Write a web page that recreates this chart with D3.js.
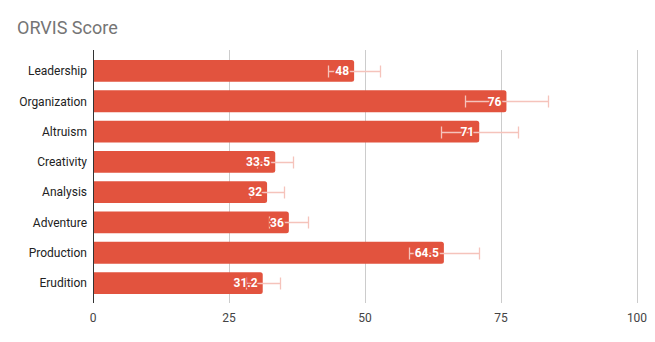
<!DOCTYPE html>
<html><head><meta charset="utf-8">
<script src="https://cdn.jsdelivr.net/npm/d3@7/dist/d3.min.js"></script>
<style>body{margin:0;background:#fff}svg{display:block;font-family:Roboto,sans-serif}</style>
</head><body><svg id="c" width="655" height="342"></svg>
<script>
const categories = ["Leadership","Organization","Altruism","Creativity","Analysis","Adventure","Production","Erudition"];
const values = [48, 76, 71, 33.5, 32, 36, 64.5, 31.2];
const errors = [4.8, 7.6, 7.1, 3.35, 3.2, 3.6, 6.45, 3.12];
const labels = ["48","76","71","33.5","32","36","64.5","31.2"];
const xTicks = [0, 25, 50, 75, 100];
const title = "ORVIS Score";

const svg = d3.select("#c");
const plotTop = 50, plotBottom = 303;
const barColor = "#e2533e";
const x = d3.scaleLinear().domain([0,100]).range([93,637]);
const y = d3.scaleBand().domain(categories).range([55.8,298.2]).paddingInner(0.28).paddingOuter(0.14);

svg.append("text").attr("x",17).attr("y",33.5).attr("font-size",18).attr("fill","#757575").text(title);

// gridlines
svg.append("g").selectAll("line").data(xTicks.slice(1)).join("line")
  .attr("x1",d=>Math.round(x(d))+0.5).attr("x2",d=>Math.round(x(d))+0.5)
  .attr("y1",plotTop).attr("y2",plotBottom).attr("stroke","#cccccc");

// bars
const r = 2.5;
svg.append("g").selectAll("path").data(values).join("path")
  .attr("fill",barColor)
  .attr("d",(d,i)=>{
    const x0=x(0), x1=x(d), y0=y(categories[i]), h=y.bandwidth();
    return `M${x0},${y0}H${x1-r}Q${x1},${y0} ${x1},${y0+r}V${y0+h-r}Q${x1},${y0+h} ${x1-r},${y0+h}H${x0}Z`;
  });

// error bars
const eg = svg.append("g").attr("stroke","#f5c3bb").attr("stroke-width",1.3);
values.forEach((v,i)=>{
  const cy = Math.round(y(categories[i]) + y.bandwidth()/2) + 0.5;
  const a = Math.round(x(v-errors[i]))+0.5, b = Math.round(x(v+errors[i]))+0.5;
  eg.append("line").attr("x1",a).attr("x2",b).attr("y1",cy).attr("y2",cy);
  eg.append("line").attr("x1",a).attr("x2",a).attr("y1",cy-6).attr("y2",cy+6);
  eg.append("line").attr("x1",b).attr("x2",b).attr("y1",cy-6).attr("y2",cy+6);
});

// value labels (with halo in bar colour)
svg.append("g").selectAll("text").data(values).join("text")
  .attr("x",d=>x(d)-5).attr("y",(d,i)=>y(categories[i])+y.bandwidth()/2+4.3)
  .attr("text-anchor","end").attr("font-size",12).attr("font-weight","bold").attr("fill","#fff")
  .attr("stroke",barColor).attr("stroke-width",3).attr("paint-order","stroke").attr("stroke-linejoin","round")
  .text((d,i)=>labels[i]);

// category labels
svg.append("g").selectAll("text").data(categories).join("text")
  .attr("x",87).attr("y",d=>y(d)+y.bandwidth()/2+4.3)
  .attr("text-anchor","end").attr("font-size",12).attr("fill","#222").text(d=>d);

// baseline
svg.append("line").attr("x1",x(0)+0.5).attr("x2",x(0)+0.5).attr("y1",plotTop).attr("y2",plotBottom)
  .attr("stroke","#333").attr("stroke-width",1);

// x tick labels
svg.append("g").selectAll("text").data(xTicks).join("text")
  .attr("x",d=>x(d)).attr("y",322).attr("text-anchor","middle").attr("font-size",12).attr("fill","#444")
  .text(d=>d);
</script></body></html>
